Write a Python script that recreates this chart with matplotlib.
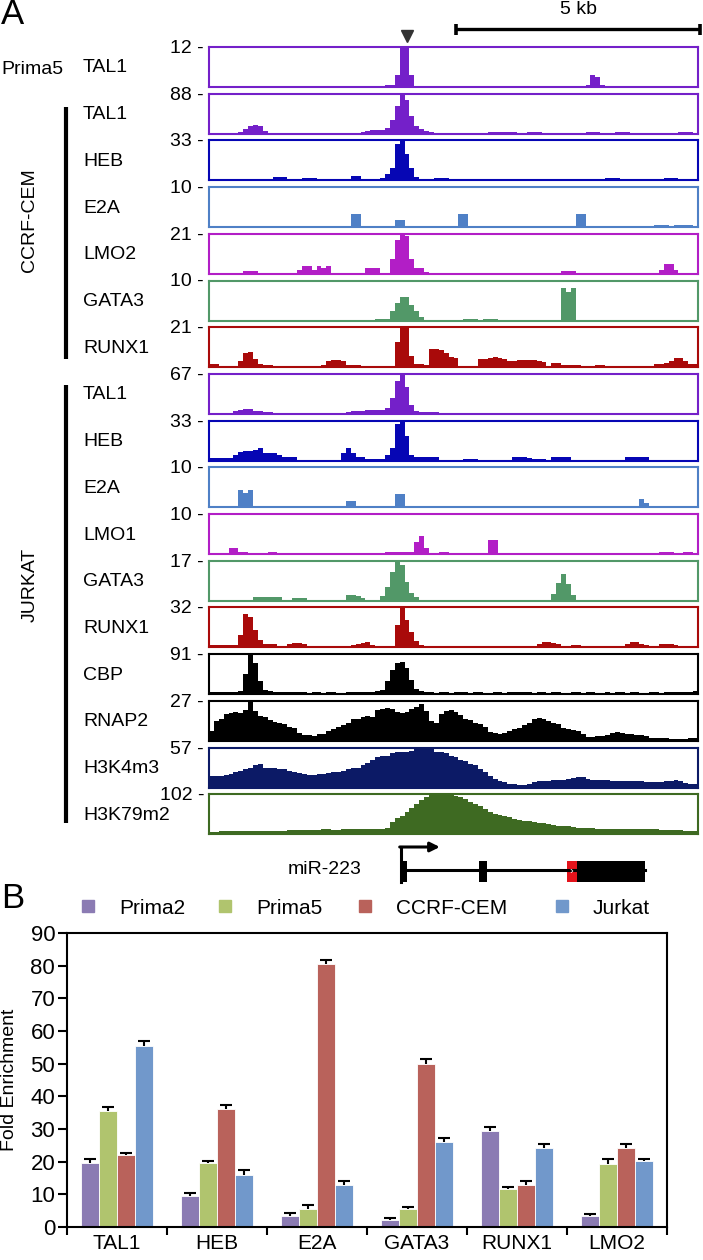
import numpy as np
import matplotlib
matplotlib.use("Agg")
import matplotlib.pyplot as plt
from matplotlib import transforms
from matplotlib.lines import Line2D
from matplotlib.patches import Rectangle

plt.rcParams['font.family'] = ['Liberation Sans', 'DejaVu Sans']

# ---------------------------------------------------------------- data (A)
# binned ChIP-seq signal, 0.1 kb bins over a 10 kb window; {first_bin: [values]}
N_BINS = 100
BIN_KB = 0.1

prima5_tal1 = {36: [0.7, 0.7, 3.6, 12, 12, 3.6], 77: [0.7, 3.6, 3.0, 0.7]}
ccrf_tal1 = {6: [4, 10, 16, 20, 17, 7],
             31: [3, 7, 9, 9, 9, 13, 31, 62, 88, 75, 40, 18, 10, 7, 4],
             57: [3, 3, 3], 60: [3, 3, 3], 65: [3, 3, 3], 77: [3, 3, 3],
             83: [3, 3, 3], 96: [3, 3, 3]}
ccrf_heb = {0: [1, 1, 1, 1, 1], 6: [1, 1, 1, 1, 1, 1], 13: [2.6, 2.6, 2.6],
            19: [1.6, 1.6, 1.6], 25: [1, 1, 1, 1], 29: [3.3, 3.3],
            35: [2, 5, 10, 30, 33, 22, 10, 3], 46: [1.6, 1.6, 1.6],
            81: [1.6, 1.6, 1.6], 93: [1.6, 1.6, 1.6]}
ccrf_e2a = {0: [0.4, 0.4, 0.4], 6: [0.4, 0.4], 29: [3.3, 3.3], 38: [1.8, 1.8],
            51: [3.3, 3.3], 75: [3.3, 3.3], 91: [0.5, 0.5, 0.5],
            95: [0.5, 0.5, 0.5, 0.5]}
ccrf_lmo2 = {7: [1.5, 1.5, 1.5], 18: [2, 4, 4, 2], 22: [4, 3, 4], 32: [3, 3, 3],
             37: [8, 18, 21, 20, 8, 3, 3, 1], 72: [1.3, 1.3, 1.3],
             92: [2, 5, 5, 2]}
ccrf_gata3 = {34: [0.5, 0.5, 0.5], 37: [2.5, 4.5, 6, 6, 4, 2.5, 1],
              52: [0.5, 0.5, 0.5], 56: [0.5, 0.5, 0.5], 72: [8.2, 7.2, 8.2]}
ccrf_runx1 = {0: [1.7, 1.7], 6: [3, 7.5, 8, 4.5, 1.7], 11: [1, 1],
              23: [1, 3.5, 4, 4, 3, 1], 29: [1, 1], 38: [13, 21, 21, 6],
              42: [1.7, 1.7, 1.2], 45: [9.5, 9.5, 9, 7.5, 5.5, 5],
              55: [4.5, 4.5, 5, 5.5, 5, 4.5, 3], 62: [3.5, 4, 4, 4, 4, 3.5, 2.5],
              70: [2, 2], 72: [1, 1, 1, 1], 79: [1, 1],
              91: [1.5, 1.5, 2, 3, 5, 5, 3, 1.5, 1.5]}
jurkat_tal1 = {4: [2, 5, 6, 8, 8, 5, 5, 4, 3], 28: [3, 5, 5, 5, 6, 6, 6, 6],
               36: [10, 27, 55, 67, 45, 15, 5], 43: [3, 3, 3, 3, 2],
               56: [2, 2, 2], 66: [2, 2, 2], 70: [2, 2, 2, 2], 74: [2, 2, 2],
               78: [2, 2], 92: [2, 2, 2]}
jurkat_heb = {0: [2, 2, 2, 2, 2], 5: [5, 7, 8, 8, 9, 10, 6, 6, 6, 5, 3, 3, 3],
              18: [0.7, 0.7, 0.7, 0.7, 0.7, 0.7, 0.7, 0.7, 0.7],
              27: [6, 10, 6, 3.3, 3.3, 1.6, 1.6, 1.6, 1.6, 5],
              37: [10, 30, 33, 20, 5, 2.6], 43: [2.6, 2.6, 2.6, 2.6],
              52: [1, 1, 1], 62: [3.3, 3.3, 3.3, 2], 66: [1.6, 1.6, 1.6],
              70: [2.6, 3.3, 3.3, 2.6], 85: [2.6, 3.3, 3.3, 3.3, 2.6]}
jurkat_e2a = {6: [4.4, 3.5, 4.4], 21: [0.4], 25: [0.4, 0.4], 28: [1.5, 1.5],
              35: [0.4], 38: [3.4, 3.4], 44: [0.4, 0.4, 0.4], 74: [0.4],
              79: [0.4, 0.4], 88: [2, 1.2]}
jurkat_lmo1 = {4: [1.5, 1.5], 6: [0.5, 0.5], 12: [0.5, 0.5],
               36: [0.5, 0.5, 0.5, 0.5, 0.5, 0.5], 42: [3, 4.5, 1.5],
               47: [0.5, 0.5], 57: [3.6, 3.6], 92: [0.5, 0.5, 0.5], 97: [0.5, 0.5]}
jurkat_gata3 = {9: [1.7, 1.7, 1.7, 1.7, 1.7, 1.7], 17: [1, 1, 1],
                28: [2.5, 2.5, 2, 1], 35: [2, 6, 12, 17, 15, 8, 3.4, 1.4],
                70: [3, 7.5, 11.5, 7, 2.5]}
jurkat_runx1 = {0: [2, 2, 2, 2, 2, 2], 6: [10, 27, 24, 14, 6, 2.5],
                12: [2.5, 2.5], 16: [3, 3.5, 3.5, 3],
                20: [1.3, 1.3, 1.3, 1.3, 1.3, 1.3, 1.3, 1.3, 1.3],
                29: [2, 3, 3.5, 4, 2], 34: [1, 1, 1, 1],
                38: [18, 32, 22, 12, 5, 1.6], 44: [1, 1, 1], 52: [1, 1],
                56: [1, 1], 67: [3, 4, 4.5, 3.5, 2.5], 74: [2, 2, 1.5],
                85: [3, 4, 4.5, 3, 2], 92: [2.5, 3, 3, 2]}
jurkat_cbp = {0: [
    4.5, 4, 5, 4.5, 4, 5, 8, 45, 91, 70,
    30, 10, 6, 5, 4, 4, 5, 4, 4.5, 4,
    3.5, 4, 4, 3.5, 4, 4, 3.5, 3.5, 4, 4.5,
    5, 5.5, 5, 5, 6, 9, 30, 55, 70, 73,
    60, 33, 12, 6, 4, 4, 3.5, 4, 4, 3.5,
    4, 4.5, 4, 3.5, 4, 4, 3.5, 3.5, 4, 4,
    3, 4, 4, 5, 4.5, 4, 3.5, 4, 4, 3.5,
    4, 4, 3.5, 3.5, 4, 4, 3.5, 4, 4, 3.5,
    3.5, 4, 3.5, 4, 4, 3.5, 4, 4, 3.5, 3.5,
    4, 4, 3.5, 4, 4, 4, 4.5, 5, 5.5, 6]}
jurkat_rnap2 = {0: [
    6.8, 13.5, 14.9, 18.4, 18.9, 19.4, 18.9, 21.1, 26.2, 20.3,
    16.7, 16.2, 14.0, 13.0, 12.2, 11.3, 9.5, 8.9, 5.4, 4.0,
    4.0, 3.5, 4.6, 4.9, 6.8, 8.1, 9.5, 10.8, 12.2, 14.9,
    14.9, 16.2, 16.7, 16.2, 21.1, 21.6, 22.1, 21.6, 19.4, 18.9,
    19.4, 21.6, 23.0, 25.1, 20.3, 13.5, 12.2, 18.4, 20.3, 21.1,
    19.4, 17.6, 14.9, 14.0, 12.2, 11.3, 9.5, 5.9, 5.4, 4.9,
    5.4, 6.8, 8.1, 8.6, 10.8, 12.2, 14.9, 15.7, 14.9, 13.5,
    12.2, 11.3, 8.6, 8.1, 7.6, 6.8, 4.9, 2.7, 2.7, 3.2,
    3.2, 4.0, 5.4, 5.9, 5.4, 4.9, 4.6, 4.0, 4.0, 3.2,
    2.2, 2.2, 1.6, 1.6, 1.4, 1.4, 1.4, 1.4, 1.9, 2.2]}
jurkat_h3k4m3 = {0: [
    16.0, 17.1, 17.1, 18.2, 18.8, 21.7, 23.9, 25.7, 28.5, 31.4,
    33.1, 28.5, 28.5, 27.4, 26.8, 25.7, 23.9, 21.7, 20.0, 18.8,
    18.2, 18.2, 18.8, 18.8, 20.0, 21.7, 22.8, 23.9, 25.7, 28.5,
    28.5, 31.4, 35.3, 39.9, 42.8, 44.5, 45.6, 48.5, 50.2, 51.3,
    51.3, 52.4, 54.2, 54.2, 55.9, 54.2, 51.3, 50.2, 48.5, 45.6,
    42.8, 39.9, 37.1, 34.2, 31.4, 25.7, 21.7, 17.1, 12.5, 9.7,
    7.4, 5.7, 4.6, 4.0, 4.0, 5.7, 7.4, 8.6, 9.1, 9.7,
    10.3, 10.3, 11.4, 12.5, 13.7, 14.8, 15.4, 12.5, 11.4, 10.8,
    10.3, 10.3, 9.7, 9.7, 9.1, 9.1, 8.6, 8.6, 8.6, 8.0,
    8.0, 8.0, 7.4, 8.6, 9.7, 10.3, 8.6, 6.8, 5.7, 5.7]}
jurkat_h3k79m2 = {0: [
    6, 6, 7, 7, 7, 8, 8, 8, 8, 8,
    8, 8, 9, 9, 9, 9, 10, 10, 10, 10,
    10, 10, 11, 12, 12, 11, 11, 12, 13, 12,
    12, 13, 13, 13, 14, 14, 15, 31, 41, 46,
    56, 66, 77, 87, 94, 99, 102, 102, 102, 99,
    97, 94, 90, 82, 77, 71, 63, 56, 51, 48,
    46, 43, 39, 36, 34, 33, 31, 29, 28, 26,
    24, 22, 21, 20, 18, 17, 16, 15, 15, 14,
    14, 13, 13, 12, 12, 13, 14, 14, 13, 13,
    12, 12, 11, 11, 10, 10, 10, 9, 9, 9]}

track_signals = [prima5_tal1, ccrf_tal1, ccrf_heb, ccrf_e2a, ccrf_lmo2,
                 ccrf_gata3, ccrf_runx1, jurkat_tal1, jurkat_heb, jurkat_e2a,
                 jurkat_lmo1, jurkat_gata3, jurkat_runx1, jurkat_cbp,
                 jurkat_rnap2, jurkat_h3k4m3, jurkat_h3k79m2]
track_names = ['TAL1', 'TAL1', 'HEB', 'E2A', 'LMO2', 'GATA3', 'RUNX1',
               'TAL1', 'HEB', 'E2A', 'LMO1', 'GATA3', 'RUNX1',
               'CBP', 'RNAP2', 'H3K4m3', 'H3K79m2']
track_max = [12, 88, 33, 10, 21, 10, 21, 67, 33, 10, 10, 17, 32, 91, 27, 57, 102]

# gene model of miR-223 (kb in the same window)
gene_span = (3.97, 8.92)
gene_exons = [(3.92, 4.04), (5.52, 5.68), (7.32, 8.92)]
gene_mirna = (7.32, 7.52)
peak_marker_kb = 4.05
scalebar_kb = (5.05, 5.0)

# ---------------------------------------------------------------- data (B)
targets = ['TAL1', 'HEB', 'E2A', 'GATA3', 'RUNX1', 'LMO2']
series_names = ['Prima2', 'Prima5', 'CCRF-CEM', 'Jurkat']
prima2 = [19.5, 9.5, 3.5, 2.2, 29.4, 3.4]
prima5 = [35.5, 19.5, 5.5, 5.5, 11.5, 19.4]
ccrf_cem = [22.0, 36.0, 80.5, 50.0, 12.8, 24.1]
jurkat = [55.5, 16.0, 12.8, 26.0, 24.1, 20.1]
prima2_err = [1.3, 0.8, 0.8, 0.7, 1.3, 0.7]
prima5_err = [1.3, 0.7, 1.2, 0.7, 0.6, 1.4]
ccrf_cem_err = [0.8, 1.3, 1.3, 1.3, 1.4, 1.3]
jurkat_err = [1.3, 1.3, 1.3, 1.3, 1.3, 0.7]

# ---------------------------------------------------------------- styling
TAL_C, HEB_C, E2A_C, LMO_C = '#7420c9', '#0606b4', '#4f80c6', '#b21ec6'
GATA_C, RUNX_C, K4_C, K79_C = '#529868', '#a90a0a', '#0c1a66', '#3e6a22'
track_colors = [TAL_C, TAL_C, HEB_C, E2A_C, LMO_C, GATA_C, RUNX_C,
                TAL_C, HEB_C, E2A_C, LMO_C, GATA_C, RUNX_C,
                'black', 'black', K4_C, K79_C]
bar_colors = ['#8b7bb3', '#b0c46e', '#b9625b', '#7198cb']
legend_marker_px = [88, 225, 365, 562]

W, H = 703, 1260
fig = plt.figure(figsize=(W / 100, H / 100), dpi=100)


def fbox(l, t, w, h):
    return [l / W, 1 - (t + h) / H, w / W, h / H]


def fy(y):
    return 1 - y / H


TRACK_L, TRACK_W, TRACK_H = 209, 489, 40
TRACK_T0, TRACK_DY = 47, 46.7
edges = np.arange(N_BINS + 1) * BIN_KB
track_axes = []
for i, (sig, name, mx, col) in enumerate(zip(track_signals, track_names,
                                             track_max, track_colors)):
    top = TRACK_T0 + TRACK_DY * i
    ax = fig.add_axes(fbox(TRACK_L, top, TRACK_W, TRACK_H))
    vals = np.zeros(N_BINS)
    for start, run in sig.items():
        vals[start:start + len(run)] = run
    ax.stairs(vals, edges, fill=True, color=col, linewidth=0)
    ax.set_xlim(0, N_BINS * BIN_KB)
    ax.set_ylim(0, mx)
    ax.set_xticks([])
    ax.set_yticks([])
    for sp in ax.spines.values():
        sp.set_color(col)
        sp.set_linewidth(1.5)
    fig.text(204 / W, fy(top + 1.5), f'{mx} -', ha='right', va='center',
             fontsize=14)
    fig.text(83 / W, fy(top + 21), name, ha='left', va='center', fontsize=14)
    track_axes.append(ax)

ax0 = track_axes[0]
blend = transforms.blended_transform_factory(ax0.transData, fig.transFigure)
sb0, sblen = scalebar_kb
ax0.plot([sb0, sb0 + sblen], [fy(29), fy(29)], color='black', lw=2.4,
         transform=blend, clip_on=False, solid_capstyle='butt')
for xe in (sb0, sb0 + sblen):
    ax0.plot([xe, xe], [fy(23.5), fy(34.5)], color='black', lw=2.6,
             transform=blend, clip_on=False, solid_capstyle='butt')
ax0.text(sb0 + sblen / 2, fy(9), '5 kb', ha='center', va='center',
         fontsize=14, transform=blend)
ax0.plot([peak_marker_kb], [fy(36)], marker='v', color='#333333',
         markersize=9, transform=blend, clip_on=False)

fig.text(1 / W, fy(14), 'A', ha='left', va='center', fontsize=25)
fig.text(1 / W, fy(70), 'Prima5', ha='left', va='center', fontsize=14)
fig.add_artist(Line2D([66 / W, 66 / W], [fy(107), fy(359)], color='black',
                      lw=3, solid_capstyle='butt'))
fig.add_artist(Line2D([66 / W, 66 / W], [fy(385), fy(823)], color='black',
                      lw=3, solid_capstyle='butt'))
fig.text(30 / W, fy(220), 'CCRF-CEM', rotation=90, ha='center', va='center',
         fontsize=14)
fig.text(30 / W, fy(585), 'JURKAT', rotation=90, ha='center', va='center',
         fontsize=14)

# gene model
gax = fig.add_axes(fbox(TRACK_L, 845, TRACK_W, 50))
gax.set_xlim(0, N_BINS * BIN_KB)
gax.set_ylim(50, 0)
gax.axis('off')
gax.plot(list(gene_span), [25, 25], color='black', lw=2.2)
for s, e in gene_exons:
    gax.add_patch(Rectangle((s, 16), e - s, 21, color='black', lw=0))
gax.add_patch(Rectangle((gene_mirna[0], 16), gene_mirna[1] - gene_mirna[0], 21,
                        color='#e3131b', lw=0))
gax.text(sum(gene_mirna) / 2, 26, '›', color='white', ha='center',
         va='center', fontsize=8)
tss = gene_exons[0][0]
gax.plot([tss, tss], [2, 37], color='black', lw=2.2, clip_on=False)
gax.annotate('', xy=(tss + 0.8, 2), xytext=(tss - 0.02, 2),
             arrowprops=dict(arrowstyle='-|>', lw=2.2, color='black',
                             mutation_scale=14, shrinkA=0, shrinkB=0),
             annotation_clip=False)
fig.text(288 / W, fy(870), 'miR-223', ha='left', va='center', fontsize=14)

# ---------------------------------------------------------------- panel B
fig.text(1 / W, fy(898), 'B', ha='left', va='center', fontsize=25)
bx = fig.add_axes(fbox(67, 933, 600, 294))
xc = np.arange(len(targets)) + 0.5
bw = 0.18
series = [prima2, prima5, ccrf_cem, jurkat]
errs = [prima2_err, prima5_err, ccrf_cem_err, jurkat_err]
handles = []
for k, (vals, err, col, nm) in enumerate(zip(series, errs, bar_colors,
                                            series_names)):
    xs = xc + (k - 1.5) * bw
    bx.bar(xs, vals, width=bw, color=col, edgecolor='white', linewidth=0.6,
           zorder=2)
    eb = bx.errorbar(xs, vals, yerr=[np.zeros(len(vals)), err], fmt='none',
                     ecolor='black', elinewidth=1.5, capsize=4.3,
                     capthick=1.5, zorder=3)
    eb[1][0].set_visible(False)  # keep only the upper cap
    handles.append(Line2D([], [], marker='s', linestyle='none', color=col,
                          markersize=9, label=nm))

bx.set_xlim(0, len(targets))
bx.set_ylim(0, 90)
bx.set_yticks(np.arange(0, 91, 10))
bx.set_xticks(xc)
bx.set_xticklabels(targets, fontsize=15)
bx.set_xticks(np.arange(len(targets) + 1), minor=True)
bx.tick_params(axis='x', which='major', length=0, pad=5)
bx.tick_params(axis='x', which='minor', length=6, width=1.5, direction='out')
bx.tick_params(axis='y', length=6.5, width=1.5, direction='out', pad=2,
               labelsize=16)
for sp in bx.spines.values():
    sp.set_linewidth(1.5)
fig.text(10 / W, fy(1080), 'Fold Enrichment', rotation=90, ha='center',
         va='center', fontsize=14)

for h, mpx in zip(handles, legend_marker_px):
    fig.legend(handles=[h], loc='center left',
               bbox_to_anchor=((mpx - 8.3) / W, fy(908)), frameon=False,
               fontsize=15, handlelength=0.8, handletextpad=1.09,
               borderpad=0, borderaxespad=0)

fig.savefig('out.png', dpi=100)
